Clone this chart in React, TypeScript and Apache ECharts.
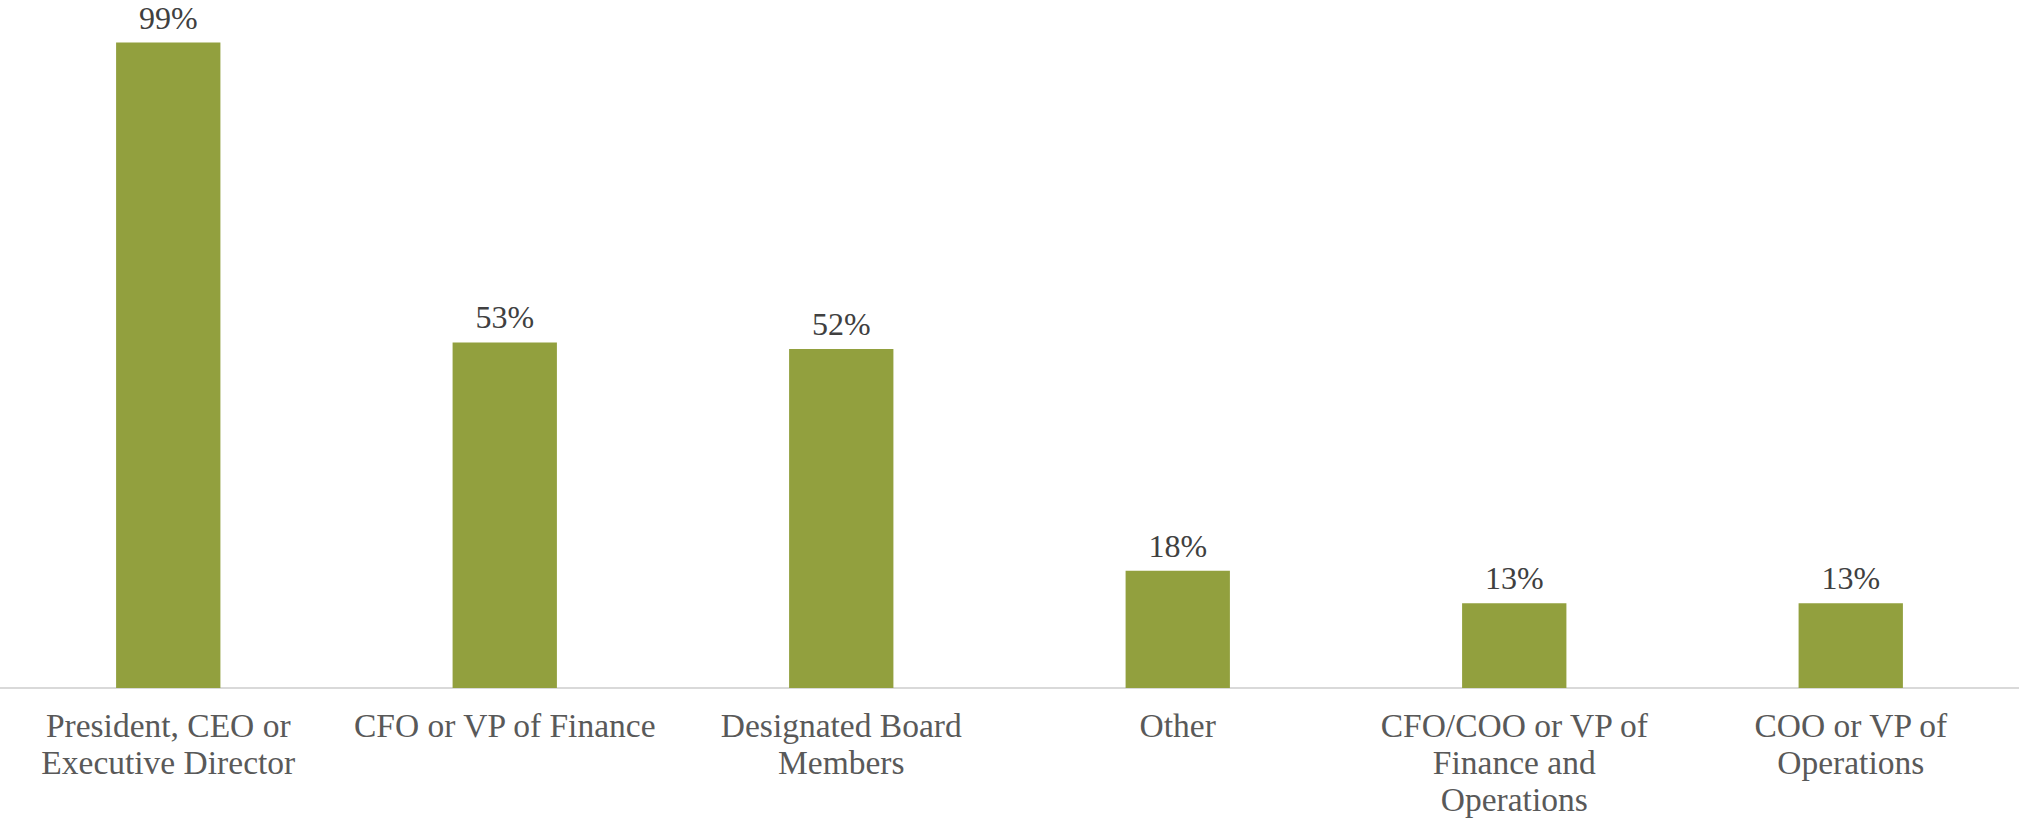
import React, { useEffect, useRef } from "react";
import * as echarts from "echarts";

const categories = [
  "President, CEO or\nExecutive Director",
  "CFO or VP of Finance",
  "Designated Board\nMembers",
  "Other",
  "CFO/COO or VP of\nFinance and\nOperations",
  "COO or VP of\nOperations",
];
const values = [99, 53, 52, 18, 13, 13];

export default function App() {
  const ref = useRef<HTMLDivElement>(null);
  useEffect(() => {
    document.body.style.margin = "0";
    const chart = echarts.init(ref.current!, null, { renderer: "svg" });
    chart.setOption({
      animation: false,
      grid: { left: 0, right: 0, top: 36, bottom: 128, containLabel: false },
      xAxis: {
        type: "category",
        data: categories,
        axisLine: { show: true, lineStyle: { color: "#D9D9D9", width: 2 } },
        axisTick: { show: false },
        axisLabel: {
          interval: 0,
          margin: 19,
          color: "#595959",
          fontFamily: "Liberation Serif",
          fontSize: 33.5,
          lineHeight: 37,
        },
      },
      yAxis: {
        type: "value",
        min: 0,
        max: 100,
        show: false,
        splitLine: { show: false },
      },
      series: [
        {
          type: "bar",
          data: values,
          barWidth: "31%",
          itemStyle: { color: "#92A03E" },
          label: {
            show: true,
            position: "top",
            distance: 9,
            formatter: "{c}%",
            color: "#404040",
            fontFamily: "Liberation Serif",
            fontSize: 32,
          },
        },
      ],
    });
    return () => chart.dispose();
  }, []);
  return <div ref={ref} style={{ width: 2019, height: 818 }} />;
}
